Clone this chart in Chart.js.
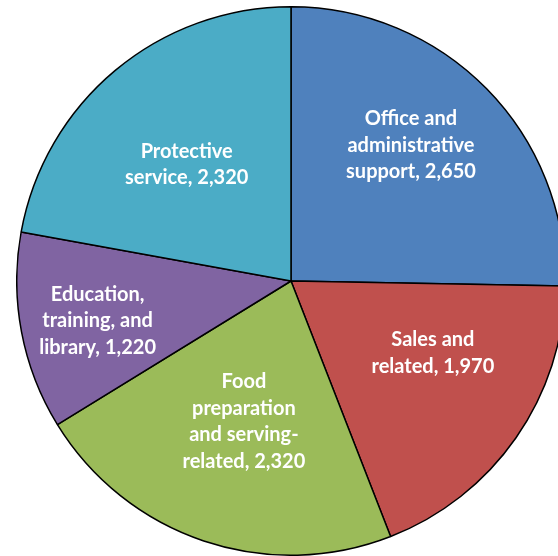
<!DOCTYPE html>
<html>
<head>
<meta charset="utf-8">
<script src="https://cdn.jsdelivr.net/npm/chart.js@4"></script>
<style>
  html, body { margin: 0; padding: 0; background: #fff; overflow: hidden; width: 558px; height: 556px; }
  #wrap { position: absolute; left: 16px; top: 6px; width: 550px; height: 550px; }
</style>
</head>
<body>
<div id="wrap"><canvas id="pie"></canvas></div>
<script>
// categories (line breaks as in the picture) and values
const categories = [
    'Office and\nadministrative\nsupport',
    'Sales and\nrelated',
    'Food\npreparation\nand serving-\nrelated',
    'Education,\ntraining, and\nlibrary',
    'Protective\nservice'
];
const jobs = [2650, 1970, 2320, 1220, 2320];
const colors = ['#4F81BD', '#C0504D', '#9BBB59', '#8064A2', '#4BACC6'];

// where to put each label inside its slice (fraction of radius, angle tweak in degrees)
const labelDist = [0.66, 0.58, 0.54, 0.72, 0.57];
const labelTurn = [-4, -8, 0, -1, -2];

const sliceLabels = {
    id: 'sliceLabels',
    afterDatasetsDraw(chart) {
        const ctx = chart.ctx;
        const meta = chart.getDatasetMeta(0);
        ctx.save();
        ctx.fillStyle = '#fff';
        ctx.font = 'bold 20px Lato';
        ctx.textAlign = 'center';
        ctx.textBaseline = 'middle';
        meta.data.forEach((arc, i) => {
            const p = arc.getProps(['x', 'y', 'startAngle', 'endAngle', 'outerRadius'], true);
            const a = (p.startAngle + p.endAngle) / 2 + labelTurn[i] * Math.PI / 180;
            const r = p.outerRadius * labelDist[i];
            const cx = p.x + Math.cos(a) * r;
            const cy = p.y + Math.sin(a) * r;
            const lines = categories[i].split('\n');
            lines[lines.length - 1] += ', ' + jobs[i].toLocaleString('en-US');
            const lh = 26.5;
            lines.forEach((t, k) => {
                ctx.fillText(t, cx, cy + (k - (lines.length - 1) / 2) * lh);
            });
        });
        ctx.restore();
    }
};

const pie = new Chart(document.getElementById('pie'),
    {
        type: 'pie',
        data:
        {
            labels: categories,
            datasets:
            [{
                data: jobs,
                backgroundColor: colors,
                borderColor: '#000',
                borderWidth: 1.5,
                hoverOffset: 0
            }]
        },
        options:
        {
            animation: false,
            responsive: true,
            maintainAspectRatio: false,
            layout: { padding: 0 },
            plugins:
            {
                legend: { display: false },
                tooltip: { enabled: false }
            }
        },
        plugins: [sliceLabels]
    })
</script>
</body>
</html>
